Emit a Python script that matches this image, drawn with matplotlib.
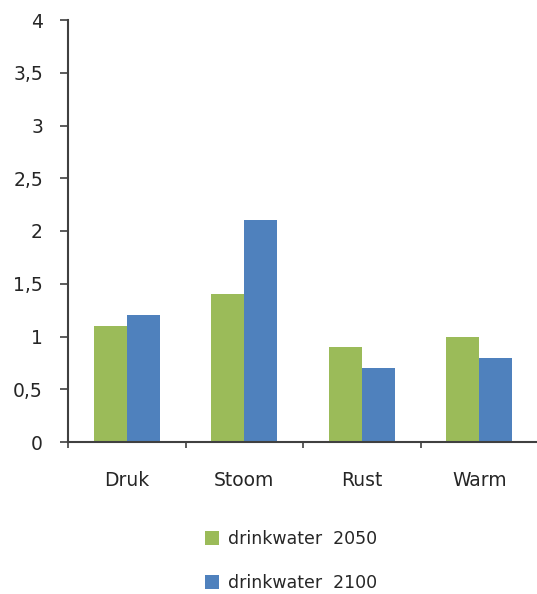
import matplotlib
matplotlib.use("Agg")
import matplotlib.pyplot as plt
import numpy as np

categories = ["Druk", "Stoom", "Rust", "Warm"]
series_names = ["drinkwater  2050", "drinkwater  2100"]
values_2050 = [1.1, 1.4, 0.9, 1.0]
values_2100 = [1.2, 2.1, 0.7, 0.8]
y_ticks = [0, 0.5, 1, 1.5, 2, 2.5, 3, 3.5, 4]
y_tick_labels = ["0", "0,5", "1", "1,5", "2", "2,5", "3", "3,5", "4"]

colors = ["#9BBB59", "#4F81BD"]
axis_color = "#404040"
text_color = "#262626"

plt.rcParams["font.family"] = ["DejaVu Sans"]

W, H = 537, 594
fig = plt.figure(figsize=(W / 100, H / 100), dpi=100)
ax = fig.add_axes([68 / W, 1 - 442 / H, (538 - 68) / W, (442 - 20) / H])

x = np.arange(len(categories))
bw = 0.28
b1 = ax.bar(x - bw / 2, values_2050, bw, color=colors[0], label=series_names[0])
b2 = ax.bar(x + bw / 2, values_2100, bw, color=colors[1], label=series_names[1])

ax.set_xlim(-0.5, len(categories) - 0.5)
ax.set_ylim(0, 4)
ax.set_yticks(y_ticks)
ax.set_yticklabels(y_tick_labels, fontsize=13.5, color=text_color)
ax.set_xticks(np.arange(len(categories) + 1) - 0.5)
ax.set_xticklabels([])
ax.set_xticks(x, minor=True)
ax.set_xticklabels(categories, minor=True, fontsize=13.5, color=text_color)
ax.tick_params(axis="x", which="minor", length=0, pad=21)
ax.tick_params(axis="x", which="major", direction="out", length=4, width=1.2, color=axis_color)
ax.tick_params(axis="y", length=6, width=1.2, color=axis_color, pad=12)

for side in ("top", "right"):
    ax.spines[side].set_visible(False)
for side in ("left", "bottom"):
    ax.spines[side].set_color(axis_color)
    ax.spines[side].set_linewidth(1.5)
ax.spines["bottom"].set_zorder(5)

leg = fig.legend(
    handles=[b1, b2],
    labels=series_names,
    loc="upper left",
    bbox_to_anchor=(198 / W, 1 - 523 / H),
    frameon=False,
    fontsize=12.5,
    handlelength=0.82,
    handleheight=0.82,
    handletextpad=0.5,
    labelspacing=1.5,
    borderaxespad=0,
)
for t in leg.get_texts():
    t.set_color(text_color)

fig.savefig("out.png", dpi=100)
